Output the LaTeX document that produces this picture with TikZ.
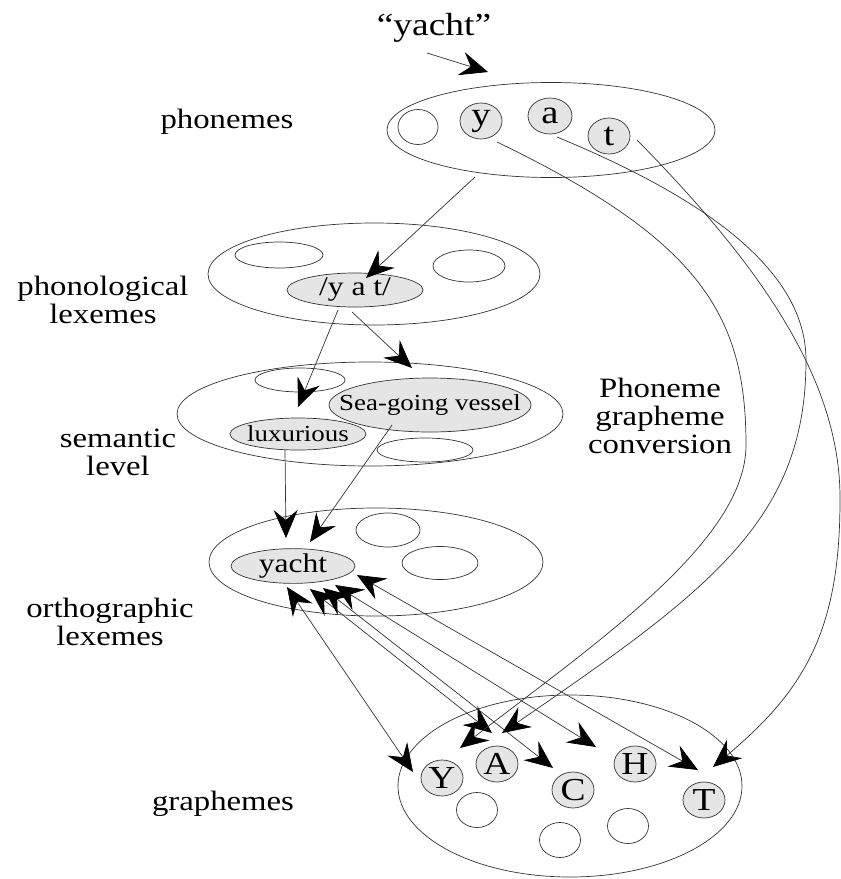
\documentclass[tikz,border=0pt]{standalone}
\usepackage{fontspec}
\setmainfont{Liberation Serif}[FakeStretch=1.17]
\usetikzlibrary{shapes.geometric,arrows.meta}

\tikzset{vtip/.tip={Stealth[length=28pt,width=24pt,inset=10pt,color=black]}}

\begin{document}
\begin{tikzpicture}[x=1pt,y=-1pt,
  ell/.style={draw=black!80, ellipse, inner sep=0pt, line width=0.7pt},
  hole/.style={ell},
  unit/.style={ell, fill=black!10},
  glyph/.style={unit, minimum width=42, minimum height=36},
  blank/.style={hole, minimum width=41, minimum height=35},
  lab/.style={font=\fontsize{28}{28}\selectfont, align=center, inner sep=0pt},
  conn/.style={draw=black!80, line width=0.7pt, -{vtip}},
  biconn/.style={draw=black!80, line width=0.7pt, {vtip}-{vtip}},
]
\useasboundingbox (0,0) rectangle (841,879);

% ---------- level labels ----------
\node[lab, anchor=base, font=\fontsize{32}{32}\selectfont] (word) at (434,35) {“yacht”};
\node[lab, anchor=base] (lphon) at (227,128) {phonemes};
\node[lab] (lphlex) at (103,299.5) {phonological\\lexemes};
\node[lab] (lsem) at (118,452.5) {semantic\\level};
\node[lab] (lorth) at (110,621.5) {orthographic\\lexemes};
\node[lab, anchor=base] (lgraph) at (223,810) {graphemes};
\node[lab] (lpgc) at (660,415.5) {Phoneme\\grapheme\\conversion};

% ---------- phonemes ----------
\node[ell, minimum width=328, minimum height=95] (phonemes) at (551,130) {};
\node[hole, minimum width=40, minimum height=35] (p0) at (418,127) {};
\node[glyph, font=\fontsize{33}{33}\selectfont] (py) at (481,121) {y};
\node[glyph, minimum width=44, font=\fontsize{33}{33}\selectfont] (pa) at (550,116) {a};
\node[glyph, font=\fontsize{33}{33}\selectfont] (pt) at (609,136) {t};

% ---------- phonological lexemes ----------
\node[ell, minimum width=332, minimum height=102] (phlex) at (374,274) {};
\node[hole, minimum width=88, minimum height=26] (ph1) at (279,255) {};
\node[hole, minimum width=72, minimum height=32] (ph2) at (469,266) {};
\node[unit, minimum width=136, minimum height=34, font=\fontsize{27}{27}\selectfont] (yat) at (355,290) {\makebox[0pt]{/y a t/}};

% ---------- semantic level ----------
\node[ell, minimum width=386, minimum height=104] (sem) at (370,414) {};
\node[hole, minimum width=90, minimum height=24] (s1) at (300,380) {};
\node[hole, minimum width=96, minimum height=24] (s2) at (425,450) {};
\node[unit, minimum width=202, minimum height=54, font=\fontsize{23}{23}\selectfont] (sea) at (430,405) {\makebox[0pt]{Sea-going vessel}};
\node[unit, minimum width=136, minimum height=32, font=\fontsize{23}{23}\selectfont] (lux) at (298,434) {\makebox[0pt]{luxurious}};

% ---------- orthographic lexemes ----------
\node[ell, minimum width=334, minimum height=108] (orth) at (376,562) {};
\node[hole, minimum width=64, minimum height=34] (o1) at (388,530) {};
\node[hole, minimum width=76, minimum height=33] (o2) at (440,563) {};
\node[unit, minimum width=124, minimum height=34, font=\fontsize{27}{27}\selectfont] (oy) at (293,566) {\makebox[0pt]{yacht}};

% ---------- graphemes ----------
\node[ell, minimum width=344, minimum height=182] (graph) at (570,786) {};
\node[glyph, font=\fontsize{32}{32}\selectfont] (gY) at (442,778) {Y};
\node[glyph, font=\fontsize{32}{32}\selectfont] (gA) at (497,764) {A};
\node[glyph, font=\fontsize{32}{32}\selectfont] (gC) at (573,790) {C};
\node[glyph, font=\fontsize{32}{32}\selectfont] (gH) at (635,764) {H};
\node[glyph, font=\fontsize{32}{32}\selectfont] (gT) at (704,800) {T};
\node[blank] (g1) at (477,810) {};
\node[blank] (g2) at (560,840) {};
\node[blank] (g3) at (628,826) {};

% ---------- connector end points ----------
\coordinate (wordS) at (427,53);   \coordinate (wordE) at (488,72);
\coordinate (phS) at (475,177);    \coordinate (yatN) at (366,278);
\coordinate (yatA) at (338,310);   \coordinate (luxN) at (298,407);
\coordinate (yatB) at (352,312);   \coordinate (seaN) at (412,368);
\coordinate (luxS) at (285,450);   \coordinate (oyA) at (286,538);
\coordinate (seaS) at (392,425);   \coordinate (oyB) at (310,542);

\coordinate (oy1) at (287,587);    \coordinate (gY1) at (413,772);
\coordinate (oy2) at (310,589);    \coordinate (gA1) at (492,733);
\coordinate (oy3) at (323,588);    \coordinate (gC1) at (553,768);
\coordinate (oy4) at (335,585);    \coordinate (gH1) at (596,747);
\coordinate (oy5) at (357,575);    \coordinate (gT1) at (698,770);

\coordinate (pyS) at (497,142);    \coordinate (pyM) at (746,445);   \coordinate (gY2) at (460,748);
\coordinate (paS) at (557,137);    \coordinate (paM) at (806,360);   \coordinate (gA2) at (502,733);
\coordinate (ptS) at (637,140);    \coordinate (ptM) at (840,500);   \coordinate (gT2) at (713,767);

% ---------- lexical route ----------
\draw[conn] (wordS) -- (wordE);
\draw[conn] (phS) -- (yatN);
\draw[conn] (yatA) -- (luxN);
\draw[conn] (yatB) -- (seaN);
\draw[conn] (luxS) -- (oyA);
\draw[conn] (seaS) -- (oyB);

% ---------- spelling links ----------
\draw[biconn] (oy1) -- (gY1);
\draw[biconn] (oy2) -- (gA1);
\draw[biconn] (oy3) -- (gC1);
\draw[biconn] (oy4) -- (gH1);
\draw[biconn] (oy5) -- (gT1);

% ---------- phoneme grapheme conversion ----------
\draw[conn] (pyS) .. controls (700,240) and (746,315) .. (pyM)
                  .. controls (746,540) and (600,640) .. (gY2);
\draw[conn] (paS) .. controls (680,188) and (806,260) .. (paM)
                  .. controls (806,520) and (710,590) .. (gA2);
\draw[conn] (ptS) .. controls (760,265) and (841,380) .. (ptM)
                  .. controls (840,630) and (805,690) .. (gT2);
\end{tikzpicture}
\end{document}
